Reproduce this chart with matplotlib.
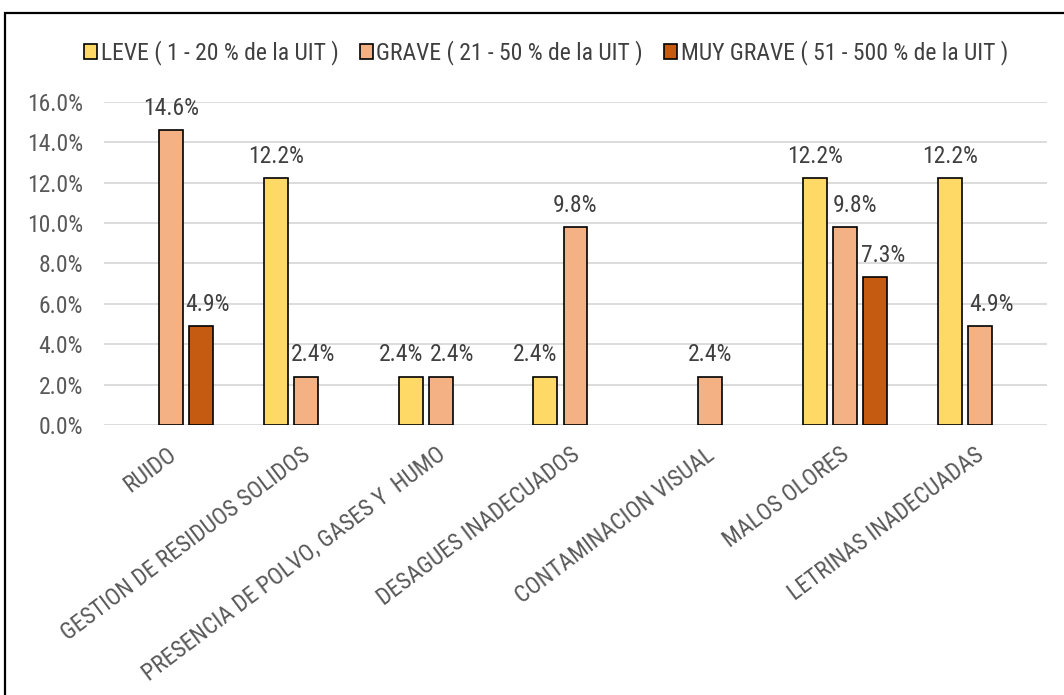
import matplotlib.pyplot as plt
import matplotlib.transforms as mtransforms
import numpy as np
from matplotlib.patches import Patch, Rectangle
from matplotlib.ticker import FuncFormatter, MultipleLocator

plt.rcParams["font.family"] = [
    "Liberation Sans Narrow",
    "Arial Narrow",
    "Roboto Condensed",
    "Archivo Narrow",
    "PT Sans Narrow",
    "Liberation Sans",
    "DejaVu Sans",
]

categorias = [
    "RUIDO",
    "GESTION DE RESIDUOS SOLIDOS",
    "PRESENCIA DE POLVO, GASES Y  HUMO",
    "DESAGUES INADECUADOS",
    "CONTAMINACION VISUAL",
    "MALOS OLORES",
    "LETRINAS INADECUADAS",
]
series = [
    "LEVE ( 1 - 20 % de la UIT )",
    "GRAVE ( 21 - 50 % de la UIT )",
    "MUY GRAVE ( 51 - 500 % de la UIT )",
]
leve = [0.0, 12.2, 2.4, 2.4, 0.0, 12.2, 12.2]
grave = [14.6, 2.4, 2.4, 9.8, 2.4, 9.8, 4.9]
muy_grave = [4.9, 0.0, 0.0, 0.0, 0.0, 7.3, 0.0]
colores = ["#FFD966", "#F4B183", "#C55A11"]

# desplazamiento horizontal (px) de algunas etiquetas, como en el original
nudge = [
    [0, 0, -10, -10, 0, 0, 0],
    [0, 7, 11, 0, 0, 10, 12],
    [6, 0, 0, 0, 0, 8, 0],
]

W, H = 1064, 695
FS = 17
fig = plt.figure(figsize=(W / 100, H / 100), dpi=100)
ax = fig.add_axes([104 / W, 1 - 425 / H, (1047 - 104) / W, (425 - 101.7) / H])

# marco del grafico
fig.patches.append(Rectangle((5 / W, -0.05), 1.2, 1 - 13 / H + 0.05, transform=fig.transFigure,
                             fill=False, edgecolor="black", linewidth=1.6, zorder=0))

x = np.arange(len(categorias))
ancho = 0.178
paso = 0.223
for i, (vals, col) in enumerate(zip([leve, grave, muy_grave], colores)):
    xs = x + (i - 1) * paso
    for xi, v, dx in zip(xs, vals, nudge[i]):
        if v <= 0:
            continue
        ax.bar(xi, v, width=ancho, color=col, edgecolor="black", linewidth=1.2, zorder=3)
        ax.annotate(f"{v:.1f}%", (xi, v), xytext=(dx * 0.72, 7.5), textcoords="offset points",
                    ha="center", va="bottom", fontsize=FS, color="#404040")

ax.set_xlim(-0.5, len(categorias) - 0.5)
ax.set_ylim(0, 16)
ax.yaxis.set_major_locator(MultipleLocator(2))
ax.yaxis.set_major_formatter(FuncFormatter(lambda v, _: f"{v:.1f}%"))
ax.grid(axis="y", color="#D9D9D9", linewidth=1.3, zorder=0)
for s in ax.spines.values():
    s.set_visible(False)
ax.tick_params(axis="both", length=0, labelsize=FS, labelcolor="#595959")
ax.tick_params(axis="y", pad=15)
ax.set_xticks(x)
ax.set_xticklabels(categorias, rotation=37, ha="right", va="top", rotation_mode="anchor")
ax.tick_params(axis="x", pad=13)
shift = mtransforms.ScaledTranslation(-5 / 100, 0, fig.dpi_scale_trans)
for lab in ax.get_xticklabels():
    lab.set_transform(lab.get_transform() + shift)

handles = [Patch(facecolor=c, edgecolor="black", linewidth=1.2) for c in colores]
fig.legend(handles, series, loc="center", bbox_to_anchor=(546 / W, 1 - 53 / H), ncol=3,
           frameon=False, fontsize=FS, handlelength=0.55, handleheight=0.55, handletextpad=0.15,
           columnspacing=0.9, labelcolor="#404040")

fig.savefig("out.png", dpi=100)
